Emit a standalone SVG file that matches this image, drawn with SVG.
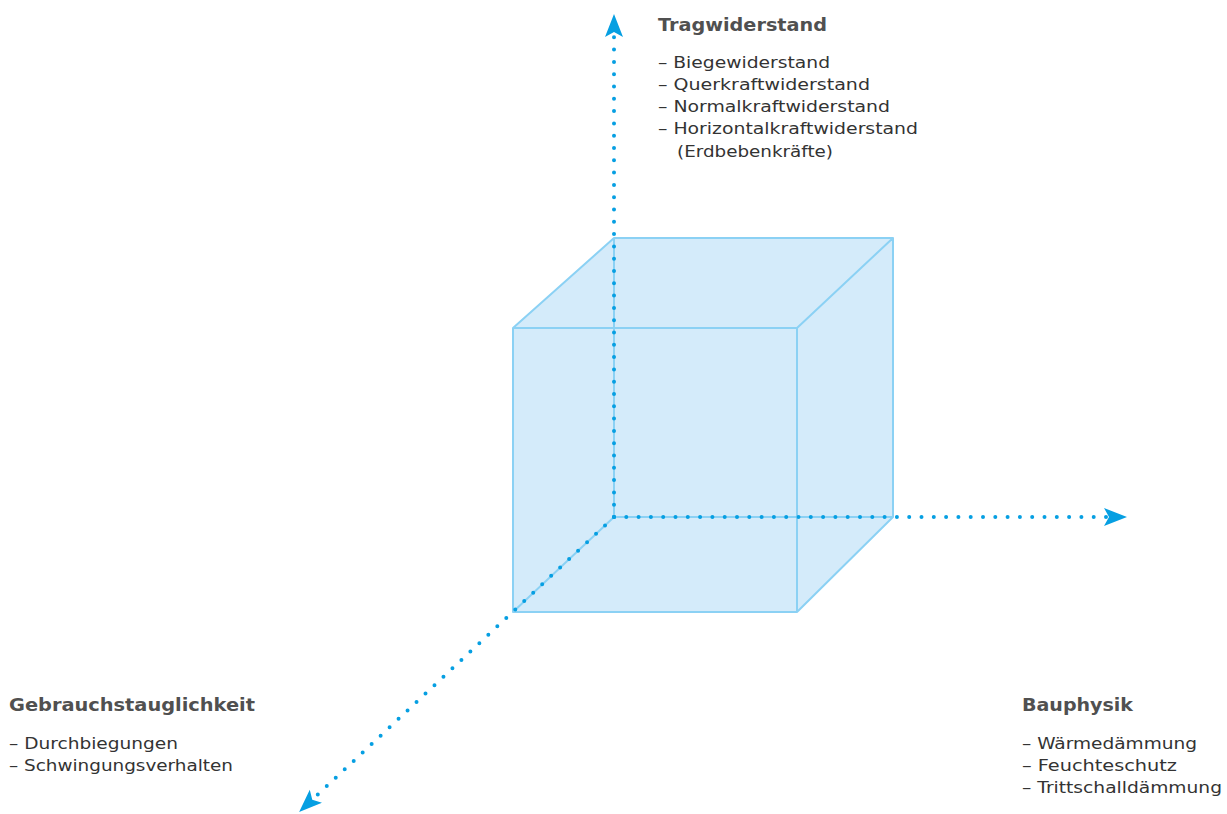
<svg xmlns="http://www.w3.org/2000/svg" width="1227" height="814" viewBox="0 0 1227 814">
<style>
.edge{fill:none;stroke:#8bd1f4;stroke-width:2;stroke-linejoin:round}
.axis{fill:none;stroke:#069fe2;stroke-width:4;stroke-linecap:round;stroke-dasharray:0 12.3}
.title{font-family:"DejaVu Sans","Liberation Sans",sans-serif;font-weight:bold;font-size:18px;fill:#505050}
.item{font-family:"DejaVu Sans","Liberation Sans",sans-serif;font-size:16px;fill:#333333}
</style>
<defs>
<marker id="arr" markerUnits="userSpaceOnUse" markerWidth="24" markerHeight="20" viewBox="0 0 24 20" refX="4" refY="9" orient="auto">
<path d="M0,0 L23,9 L0,18 L5,9 Z" fill="#069fe2"/>
</marker>
</defs>
<g id="cube">
<path d="M513,328 L614,238 L893,238 L893,517 L797,612 L513,612 Z" fill="#d4ebfa" stroke="none"/>
<path class="edge" d="M614,238 L614,517 L893,517 M614,517 L513,612"/>
<path class="edge" d="M513,328 L797,328 L797,612 L513,612 Z M513,328 L614,238 L893,238 L797,328 M893,238 L893,517 L797,612"/>
</g>
<g id="connectors">
<path class="axis" d="M614,517 L614,33" marker-end="url(#arr)"/>
<path class="axis" d="M614,517 L1108,517" marker-end="url(#arr)"/>
<path class="axis" d="M614,517 L313,799" marker-end="url(#arr)"/>
</g>
<g id="tragwiderstand">
<text class="title" x="658" y="30.5" textLength="169" lengthAdjust="spacingAndGlyphs">Tragwiderstand</text>
<text class="item" x="658" y="68" textLength="172" lengthAdjust="spacingAndGlyphs">– Biegewiderstand</text>
<text class="item" x="658" y="90" textLength="212" lengthAdjust="spacingAndGlyphs">– Querkraftwiderstand</text>
<text class="item" x="658" y="112" textLength="232" lengthAdjust="spacingAndGlyphs">– Normalkraftwiderstand</text>
<text class="item" x="658" y="134" textLength="260" lengthAdjust="spacingAndGlyphs">– Horizontalkraftwiderstand</text>
<text class="item" x="677" y="156.5" textLength="156" lengthAdjust="spacingAndGlyphs">(Erdbebenkräfte)</text>
</g>
<g id="gebrauchstauglichkeit">
<text class="title" x="9" y="711" textLength="246" lengthAdjust="spacingAndGlyphs">Gebrauchstauglichkeit</text>
<text class="item" x="9" y="749" textLength="169" lengthAdjust="spacingAndGlyphs">– Durchbiegungen</text>
<text class="item" x="9" y="771" textLength="224" lengthAdjust="spacingAndGlyphs">– Schwingungsverhalten</text>
</g>
<g id="bauphysik">
<text class="title" x="1022" y="711" textLength="111" lengthAdjust="spacingAndGlyphs">Bauphysik</text>
<text class="item" x="1022" y="749" textLength="175" lengthAdjust="spacingAndGlyphs">– Wärmedämmung</text>
<text class="item" x="1022" y="771" textLength="155" lengthAdjust="spacingAndGlyphs">– Feuchteschutz</text>
<text class="item" x="1022" y="793" textLength="200" lengthAdjust="spacingAndGlyphs">– Trittschalldämmung</text>
</g>
</svg>
